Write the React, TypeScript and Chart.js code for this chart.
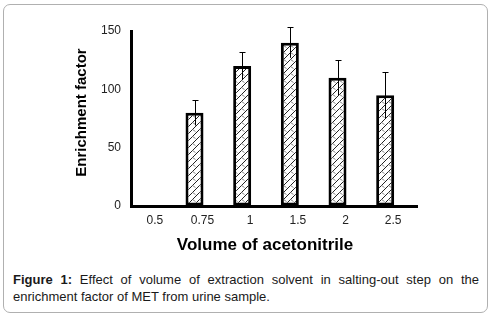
import React, { useEffect, useRef } from "react";
import { Chart, registerables } from "chart.js";

Chart.register(...registerables);

const categories = ["0.5", "0.75", "1", "1.5", "2", "2.5"];
const enrichment = [0, 80, 120, 140, 110, 95];
const errors = [0, 11, 12, 13, 15, 20];
const yTicks = [0, 50, 100, 150];
const xTitle = "Volume of acetonitrile";
const yTitle = "Enrichment factor";

const FONT = "'Liberation Sans', Arial, sans-serif";

function makePattern(): CanvasPattern | string {
  const c = document.createElement("canvas");
  c.width = 7;
  c.height = 7;
  const g = c.getContext("2d");
  if (!g) return "#ddd";
  g.fillStyle = "#fff";
  g.fillRect(0, 0, 7, 7);
  g.strokeStyle = "#222";
  g.lineWidth = 1;
  g.beginPath();
  g.moveTo(0, 7);
  g.lineTo(7, 0);
  g.stroke();
  g.strokeStyle = "#8a8a8a";
  g.beginPath();
  g.moveTo(3.5, 3.5);
  g.lineTo(6.5, 5.5);
  g.stroke();
  return g.createPattern(c, "repeat") || "#ddd";
}

const errorBarPlugin = {
  id: "errorBars",
  afterDatasetsDraw(chart: any) {
    const ctx = chart.ctx;
    const meta = chart.getDatasetMeta(0);
    const y = chart.scales.y;
    ctx.save();
    ctx.strokeStyle = "#000";
    ctx.lineWidth = 1;
    meta.data.forEach((bar: any, i: number) => {
      const err = errors[i];
      if (!err) return;
      const x = Math.round(bar.x) + 0.5;
      const top = Math.round(y.getPixelForValue(enrichment[i] + err)) + 0.5;
      const bot = y.getPixelForValue(enrichment[i] - err);
      ctx.beginPath();
      ctx.moveTo(x, top);
      ctx.lineTo(x, bot);
      ctx.moveTo(x - 3, top);
      ctx.lineTo(x + 3, top);
      ctx.stroke();
    });
    ctx.restore();
  },
};

const titlesPlugin = {
  id: "axisTitles",
  afterDraw(chart: any) {
    const ctx = chart.ctx;
    const area = chart.chartArea;
    ctx.save();
    ctx.fillStyle = "#000";
    ctx.textAlign = "center";
    ctx.textBaseline = "middle";
    ctx.font = `bold 17px ${FONT}`;
    ctx.fillText(xTitle, (area.left + area.right) / 2 - 9, area.bottom + 39);
    ctx.translate(82, (area.top + area.bottom) / 2 - 6);
    ctx.rotate(-Math.PI / 2);
    ctx.font = `bold 15px ${FONT}`;
    ctx.fillText(yTitle, 0, 0);
    ctx.restore();
  },
};

export default function App() {
  const ref = useRef<HTMLCanvasElement | null>(null);

  useEffect(() => {
    if (!ref.current) return;
    const pattern = makePattern();
    const chart = new Chart(ref.current, {
      type: "bar",
      data: {
        labels: categories,
        datasets: [
          {
            data: enrichment,
            backgroundColor: pattern as any,
            borderColor: "#000",
            borderWidth: 3,
            borderSkipped: false,
            categoryPercentage: 0.671,
            barPercentage: 1.125,
          },
          {
            data: categories.map(() => null),
            backgroundColor: "transparent",
            categoryPercentage: 0.671,
            barPercentage: 1.125,
          },
        ],
      },
      options: {
        animation: false,
        responsive: false,
        events: [],
        layout: { padding: { left: 0, top: 31, right: 74, bottom: 0 } },
        plugins: {
          legend: { display: false },
          tooltip: { enabled: false },
        },
        scales: {
          x: {
            grid: { display: true, drawOnChartArea: false, drawTicks: false },
            border: { display: true, color: "#000", width: 3 },
            ticks: {
              padding: 7,
              color: "#222",
              font: { family: FONT, size: 12 },
            },
            afterFit: (s: any) => {
              s.height = 54;
            },
          },
          y: {
            min: 0,
            max: 150,
            grid: { display: true, drawOnChartArea: false, drawTicks: false },
            border: { display: true, color: "#000", width: 3 },
            afterBuildTicks: (s: any) => {
              s.ticks = yTicks.map((v) => ({ value: v }));
            },
            ticks: {
              padding: 10,
              color: "#222",
              font: { family: FONT, size: 12 },
            },
            afterFit: (s: any) => {
              s.width = 131;
            },
          },
        },
      },
      plugins: [errorBarPlugin, titlesPlugin],
    } as any);
    return () => chart.destroy();
  }, []);

  return (
    <div style={{ position: "absolute", left: 0, top: 0, width: 491, height: 319 }}>
      <div
        style={{
          position: "absolute",
          left: 3,
          top: 4,
          width: 485,
          height: 309,
          boxSizing: "border-box",
          border: "1px solid #b0b0b0",
          borderRadius: 7,
        }}
      />
      <canvas
        ref={ref}
        width={491}
        height={260}
        style={{ position: "absolute", left: 0, top: 0, width: 491, height: 260 }}
      />
      <div
        style={{
          position: "absolute",
          left: 13,
          top: 271,
          width: 466,
          fontFamily: FONT,
          fontSize: 13,
          lineHeight: "17px",
          textAlign: "justify",
          color: "#1a1a1a",
        }}
      >
        <b>Figure 1:</b> Effect of volume of extraction solvent in salting-out step on the
        enrichment factor of MET from urine sample.
      </div>
    </div>
  );
}
